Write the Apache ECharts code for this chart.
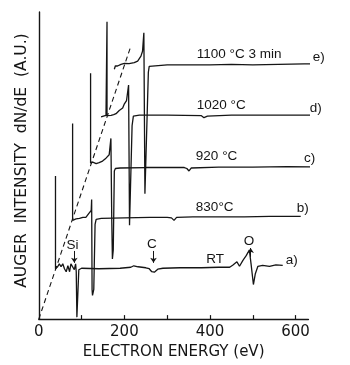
<!DOCTYPE html>
<html>
<head>
<meta charset="utf-8">
<script src="https://cdn.jsdelivr.net/npm/echarts@6/dist/echarts.min.js"></script>
<style>
  html, body { margin: 0; padding: 0; background: #fff; }
  #chart { width: 350px; height: 365px; }
</style>
</head>
<body>
<div id="chart"></div>
<script>
// Auger spectra, [electron energy (eV), dN/dE (arb. units)], each trace offset along the guide line
const specRT = [
  [39,145],[39,51],[44,53],[48,56],[52,53],[56,56],[60,51],[64,48],[68,54],[72,48],[75,56],[79,55],
  [83,50],[86,56],[87.5,48],[89,2],[91.5,2],[93.5,50],[100,51.5],[140,51],[190,51.5],[215,52.5],
  [222,54],[232,53],[250,52],[258,51],[264,48],[270,47.5],[278,50.5],[290,51.5],[330,52],[380,52],
  [420,52.5],[446,52.5],[453,54.5],[463,58],[469,53.5],[477,59.5],[485,64.5],[492,70],[496,56],
  [501.5,35],[506,46],[512,53.5],[523,54.5],[539,53.5],[554,55],[570,54.5]
];
const spec830 = [
  [79,198],[79,100],[83,101],[87,101.5],[91,103],[95,102],[99,101],[103,103],[107,104],[110,103],
  [113,105],[117,107],[120.5,108],[122.5,110],[123.5,121],[124.5,30],[125.5,24],[128.5,30],[131.5,96],
  [134,101],[146,102],[200,102.5],[260,103],[300,103],[310,102.5],[316,100],[322,103],[360,103.5],
  [420,103.5],[480,103.5],[540,104],[612,104]
];
const spec920 = [
  [121,249],[121,158],[126,159],[130,159],[134,157.5],[137.5,157],[141,158.5],[145.5,159],[149,160],
  [153,161.5],[157,163],[160.5,164.5],[164.5,166.5],[167.5,168],[168.5,183],[170.5,100],[172,61],
  [174,70],[176.5,150],[179,152.5],[190,153],[250,153.5],[300,153.5],[340,153.5],[346,152.5],
  [351,150],[356,153],[420,154],[500,154],[580,154.5],[654,154]
];
const spec1020 = [
  [145.5,204.7],[151,205.5],[157,206.3],[159.4,206],[159.4,301],[159.4,206],[164,206],[169,206.3],
  [175,207],[180.5,208],[184,209.5],[188,211.3],[192,212],[196,213.7],[200,218],[203,219],[205,221.3],
  [206.5,222],[209.8,237],[212,95],[213.5,93],[215,96],[218,196],[221,205.5],[235,206.5],[300,206.5],
  [380,206],[386,204],[390,203.5],[394,205.5],[450,206.5],[550,206.5],[674,206.5]
];
const spec1100 = [
  [176.5,253],[179,256.5],[184,256.3],[192,258],[200,259],[211,258.7],[223,259.7],[231,261.3],
  [235,263],[238.7,266.3],[242.4,271.3],[244,272],[245.5,290],[248,127],[251,126],[256,250],
  [258,256],[262,257.5],[300,257.5],[350,257.5],[400,257.5],[450,258],[500,257.5],[560,258],
  [620,258.5],[678,258.5]
];
// dashed guide through the trace offsets
const offsetGuide = [[0,0],[214,275]];

// axis
const energyTicks = [100,200,300,400,500,600];
const energyLabels = [0,200,400,600];

// trace annotations
const traceNames = ['1100 °C 3 min','e)','1020 °C','d)','920 °C','c)','830°C','b)','RT','a)'];
const traceNameAnchors = [[369,268],[654,265],[369,216.5],[647,213],[367,164.5],[633,163],[367,113.5],[617,112],[412,61],[591,60]];
const traceNameAlign = ['left','center','left','center','left','center','left','center','center','center'];
const peakNames = ['Si','C','O'];
const peakNameAnchors = [[79,75],[264,76],[491,79]];
const peakArrows = [[[83,69],[83,57]],[[268,69],[268,57]],[[495,63],[495,72]]];

const ink = '#151515';
const baseFont = 'DejaVu Sans';
const labelFont = 'Liberation Sans';

function trace(data) {
  return {
    type: 'line', data: data, symbol: 'none', showSymbol: false, clip: false, silent: true,
    lineStyle: { color: ink, width: 1.3 }
  };
}

function textMarks(names, anchors, aligns) {
  return {
    type: 'scatter', symbol: 'circle', symbolSize: 2, silent: true, clip: false,
    itemStyle: { color: 'rgba(255,255,255,0)' },
    data: names.map((t, i) => ({
      name: t, value: anchors[i],
      label: { align: aligns ? aligns[i] : 'center' }
    })),
    label: {
      show: true, formatter: '{b}', position: 'inside', verticalAlign: 'middle',
      color: ink, fontSize: 13.5, fontFamily: labelFont, opacity: 1
    }
  };
}

const chart = echarts.init(document.getElementById('chart'), null, { renderer: 'canvas' });
chart.setOption({
  animation: false,
  backgroundColor: '#fff',
  grid: { left: 38.8, right: 41.6, top: 12, bottom: 42 },
  xAxis: {
    type: 'value', min: 0, max: 630,
    name: 'ELECTRON ENERGY (eV)', nameLocation: 'middle', nameGap: 23,
    nameTextStyle: { color: ink, fontSize: 15, fontFamily: baseFont },
    axisLine: { show: true, lineStyle: { color: ink, width: 1.4 } },
    axisTick: { show: true, inside: true, length: 4, customValues: energyTicks, lineStyle: { color: ink, width: 1.2 } },
    axisLabel: { show: true, customValues: energyLabels, margin: 6, color: ink, fontSize: 15, fontFamily: baseFont },
    splitLine: { show: false }
  },
  yAxis: {
    type: 'value', min: 0, max: 311,
    name: 'AUGER  INTENSITY  dN/dE  (A.U.)', nameLocation: 'middle', nameGap: 9, nameRotate: 90,
    nameTextStyle: { color: ink, fontSize: 15.5, fontFamily: baseFont, padding: [0, 0, 0, 10] },
    axisLine: { show: true, lineStyle: { color: ink, width: 1.4 } },
    axisTick: { show: false },
    axisLabel: { show: false },
    splitLine: { show: false }
  },
  series: [
    trace(specRT),
    trace(spec830),
    trace(spec920),
    trace(spec1020),
    trace(spec1100),
    {
      type: 'line', data: offsetGuide, symbol: 'none', silent: true, clip: false,
      lineStyle: { color: ink, width: 1.1, type: [5, 3.5] }
    },
    textMarks(traceNames, traceNameAnchors, traceNameAlign),
    textMarks(peakNames, peakNameAnchors),
    {
      type: 'lines', coordinateSystem: 'cartesian2d', silent: true,
      symbol: ['none', 'arrow'], symbolSize: 5,
      lineStyle: { color: ink, width: 1, curveness: 0, opacity: 1 },
      data: peakArrows.map(c => ({ coords: c }))
    }
  ]
});
</script>
</body>
</html>
